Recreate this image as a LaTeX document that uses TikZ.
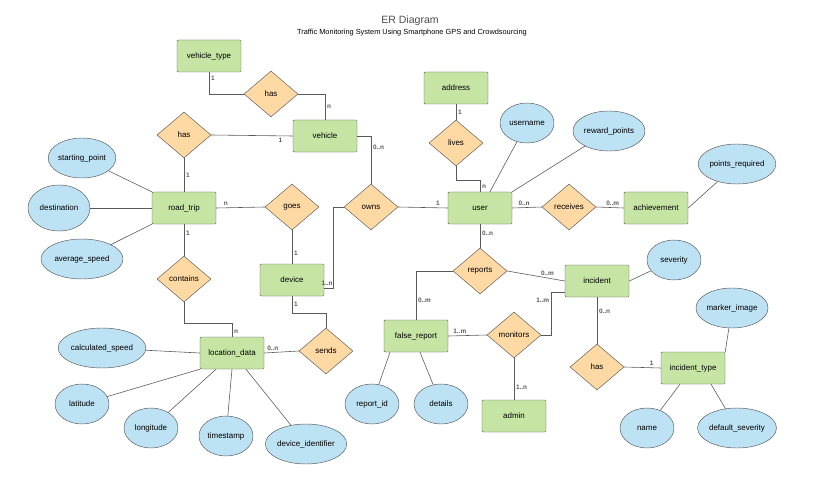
\documentclass[tikz,border=0pt]{standalone}
\usepackage{fontspec}
\setmainfont{Liberation Sans}
\usepackage{tikz}
\usetikzlibrary{shapes.geometric,calc,positioning}
\definecolor{colorent}{HTML}{C6E5A4}
\definecolor{colorrel}{HTML}{FFD9A3}
\definecolor{colorattr}{HTML}{BDE2F4}
\definecolor{colorline}{HTML}{5A5A5A}
\tikzset{
  ent/.style={draw=colorline, fill=colorent, rounded corners=1pt, minimum width=1.92cm, minimum height=0.96cm, font=\fontsize{6.8}{8}\selectfont},
  rel/.style={draw=colorline, fill=colorrel, diamond, inner sep=0pt, minimum width=1.62cm, minimum height=1.38cm, font=\fontsize{6.8}{8}\selectfont},
  attr/.style={draw=colorline, fill=colorattr, ellipse, inner sep=0pt, minimum height=1.2cm, font=\fontsize{6.8}{8}\selectfont},
  card/.style={font=\fontsize{5.5}{6}\selectfont\bfseries, inner sep=1.5pt},
  edgeer/.style={colorline, line width=0.5pt}
}
\begin{document}
\begin{tikzpicture}[x=0.03cm, y=-0.03cm]
\useasboundingbox (0,0) rectangle (816,482);
\node[font=\fontsize{9}{10}\selectfont, text=black!70](title) at (410,21) {ER Diagram};
\node[font=\fontsize{6.3}{7}\selectfont](subtitle) at (412,33)
{Traffic Monitoring System Using Smartphone GPS and Crowdsourcing};

% entities
\node[ent](vtype) at (209,56) {vehicle\_type};
\node[ent](vehicle) at (325,136) {vehicle};
\node[ent](roadtrip) at (184,208) {road\_trip};
\node[ent](user) at (480,208) {user};
\node[ent](address) at (456,88) {address};
\node[ent](achiev) at (656,208) {achievement};
\node[ent](device) at (292,280) {device};
\node[ent](locdata) at (232,353) {location\_data};
\node[ent](incident) at (597,281) {incident};
\node[ent](freport) at (416,336) {false\_report};
\node[ent](admin) at (514,416) {admin};
\node[ent](itype) at (693,368) {incident\_type};

% relationships
\node[rel](hasvt) at (271,94) {has};
\node[rel](hasrt) at (184,135) {has};
\node[rel](goes) at (292,207) {goes};
\node[rel](owns) at (371,207) {owns};
\node[rel](lives) at (456,143) {lives};
\node[rel](receives) at (569,207) {receives};
\node[rel](contains) at (184,279) {contains};
\node[rel](sends) at (326,351) {sends};
\node[rel](reports) at (480,271) {reports};
\node[rel](monitors) at (514,335) {monitors};
\node[rel](hasit) at (597,367) {has};

% attributes
\node[attr, minimum width=1.8cm](startp) at (82,158) {starting\_point};
\node[attr, minimum width=1.86cm, minimum height=1.38cm](dest) at (59,208) {destination};
\node[attr, minimum width=2.46cm](avgspeed) at (82,259) {average\_speed};
\node[attr, minimum width=1.62cm](username) at (527,123) {username};
\node[attr, minimum width=2.16cm](reward) at (609,131) {reward\_points};
\node[attr, minimum width=2.16cm](pointsreq) at (737,164) {points\_required};
\node[attr, minimum width=2.46cm](calcspeed) at (102,348) {calculated\_speed};
\node[attr, minimum width=1.62cm](latitude) at (82,404) {latitude};
\node[attr, minimum width=1.62cm](longitude) at (151,428) {longitude};
\node[attr, minimum width=1.62cm](timestamp) at (226,436) {timestamp};
\node[attr, minimum width=2.4cm](devid) at (306,444) {device\_identifier};
\node[attr, minimum width=1.62cm](severity) at (674,260) {severity};
\node[attr, minimum width=1.62cm](reportid) at (372,404) {report\_id};
\node[attr, minimum width=1.62cm](details) at (441,404) {details};
\node[attr, minimum width=2.04cm](marker) at (732,308) {marker\_image};
\node[attr, minimum width=1.62cm](name) at (647,428) {name};
\node[attr, minimum width=2.34cm](defsev) at (737,428) {default\_severity};

% relationship lines
\draw[edgeer] (vtype.south) |- node[card, pos=0.15, right]{1} (hasvt.west);
\draw[edgeer] (hasvt.east) -| node[card, pos=0.75, right]{n} (vehicle.north);
\draw[edgeer] (hasrt.east) -- node[card, pos=0.85, below]{1} (vehicle.west);
\draw[edgeer] (hasrt.south) -- node[card, pos=0.5, right]{1} (roadtrip.north);
\draw[edgeer] (vehicle.east) -| node[card, pos=0.62, right]{0..n} (owns.north);
\draw[edgeer] (owns.east) -- node[card, pos=0.8, above]{1} (user.west);
\draw[edgeer] (owns.west) -- ++(-10,0) |- node[card, pos=0.85, above]{1..n} ($(device.east)+(0,8)$);
\draw[edgeer] (roadtrip.east) -- node[card, pos=0.2, above]{n} (goes.west);
\draw[edgeer] (goes.south) -- node[card, pos=0.7, right]{1} (device.north);
\draw[edgeer] (roadtrip.south) -- node[card, pos=0.3, right]{1} (contains.north);
\draw[edgeer] (contains.south) -- ++(0,21) -| node[card, pos=0.8, right]{n} (locdata.north);
\draw[edgeer] (device.south) -- node[card, pos=0.5, right]{1} ++(0,17) -| (sends.north);
\draw[edgeer] (sends.west) -- node[card, pos=0.75, above]{0..n} (locdata.east);
\draw[edgeer] (lives.north) -- node[card, pos=0.5, right]{1} (address.south);
\draw[edgeer] (lives.south) -- ++(0,14) -| node[card, pos=0.8, right]{n} (user.north);
\draw[edgeer] (user.east) -- node[card, pos=0.4, above]{0..n} (receives.west);
\draw[edgeer] (receives.east) -- node[card, pos=0.6, above]{0..m} (achiev.west);
\draw[edgeer] (user.south) -- node[card, pos=0.4, right]{0..n} (reports.north);
\draw[edgeer] (reports.east) -- node[card, pos=0.7, above]{0..m} (incident.west);
\draw[edgeer] (reports.west) -| node[card, pos=0.8, right]{0..m} (freport.north);
\draw[edgeer] (freport.east) -- node[card, pos=0.3, above]{1..m} (monitors.west);
\draw[edgeer] (monitors.east) -- ++(10,0) |- node[card, pos=0.4, left]{1..m} ($(incident.west)+(0,11)$);
\draw[edgeer] (monitors.south) -- node[card, pos=0.7, right]{1..n} (admin.north);
\draw[edgeer] (incident.south) -- node[card, pos=0.3, right]{0..n} (hasit.north);
\draw[edgeer] (hasit.east) -- node[card, pos=0.75, above]{1} (itype.west);

% attribute lines
\draw[edgeer] (startp) -- (roadtrip.north west);
\draw[edgeer] (dest) -- (roadtrip.west);
\draw[edgeer] (avgspeed) -- (roadtrip.south west);
\draw[edgeer] (username) -- ($(user.north)+(10,0)$);
\draw[edgeer] (reward) -- (user.north east);
\draw[edgeer] (pointsreq) -- (achiev.east);
\draw[edgeer] (calcspeed) -- (locdata.west);
\draw[edgeer] (latitude) -- (locdata.south west);
\draw[edgeer] (longitude) -- ($(locdata.south)+(-16,0)$);
\draw[edgeer] (timestamp) -- (locdata.south);
\draw[edgeer] (devid) -- ($(locdata.south)+(14,0)$);
\draw[edgeer] (severity) -- (incident.east);
\draw[edgeer] (reportid) -- ($(freport.south)+(-26,0)$);
\draw[edgeer] (details) -- ($(freport.south)+(4,0)$);
\draw[edgeer] (marker) -- (itype.north east);
\draw[edgeer] (name) -- ($(itype.south)+(-13,0)$);
\draw[edgeer] (defsev) -- ($(itype.south)+(18,0)$);
\end{tikzpicture}
\end{document}
